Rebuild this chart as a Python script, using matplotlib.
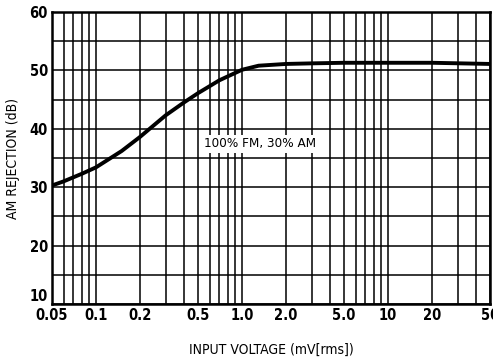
import numpy as np
import matplotlib
matplotlib.use("Agg")
import matplotlib.pyplot as plt
from matplotlib.ticker import FixedLocator, NullFormatter

# curve
volts = [0.05, 0.06, 0.08, 0.1, 0.15, 0.2, 0.3, 0.4, 0.5, 0.7, 1.0, 1.3, 2.0, 3.0, 5.0, 10, 20, 50]
rejection = [30.3, 31.0, 32.3, 33.4, 36.2, 38.6, 42.3, 44.5, 46.1, 48.3, 50.1, 50.8, 51.1, 51.2, 51.3, 51.3, 51.3, 51.1]

xticks = [0.05, 0.1, 0.2, 0.5, 1.0, 2.0, 5.0, 10, 20, 50]
xtick_labels = ["0.05", "0.1", "0.2", "0.5", "1.0", "2.0", "5.0", "10", "20", "50"]
yticks = [10, 20, 30, 40, 50, 60]
note = "100% FM, 30% AM"

plt.rcParams['font.family'] = ['DejaVu Sans']
plt.rcParams['font.stretch'] = 'condensed'

fig = plt.figure(figsize=(4.93, 3.62), dpi=100)
ax = fig.add_axes([0.1055, 0.160, 0.8885, 0.807])

ax.set_xscale('log')
ax.set_xlim(0.05, 50)
ax.set_ylim(10, 60)

# full log grid in x, 5 dB grid in y
vgrid = []
for dec in [0.01, 0.1, 1, 10]:
    for m in range(1, 10):
        v = m * dec
        if 0.05 <= v <= 50:
            vgrid.append(v)
ax.xaxis.set_major_locator(FixedLocator(xticks))
ax.xaxis.set_minor_locator(FixedLocator(vgrid))
ax.xaxis.set_minor_formatter(NullFormatter())
ax.set_xticklabels(xtick_labels)
ax.set_yticks(yticks)
ax.yaxis.set_minor_locator(FixedLocator(np.arange(10, 61, 5)))

ax.grid(True, which='both', color='black', linewidth=1.1)
ax.tick_params(which='both', length=0, labelsize=10.5)
for lab in ax.get_xticklabels() + ax.get_yticklabels():
    lab.set_fontweight('bold')
    lab.set_fontstretch('condensed')
ax.get_yticklabels()[0].set_verticalalignment('bottom')
ax.tick_params(axis='x', pad=3)
ax.tick_params(axis='y', pad=3)
for s in ax.spines.values():
    s.set_linewidth(1.8)

ax.plot(volts, rejection, color='black', linewidth=2.8, solid_capstyle='butt', zorder=5)

ax.text(1.33, 37.4, note, ha='center', va='center', fontsize=9.6, fontstretch='condensed',
        bbox=dict(facecolor='white', edgecolor='none', pad=1.5), zorder=6)

ax.set_xlabel("INPUT VOLTAGE (mV[rms])", fontsize=10, fontstretch='condensed', labelpad=14)
ax.set_ylabel("AM REJECTION (dB)", fontsize=10, fontstretch='condensed', labelpad=7)

fig.savefig("out.png", dpi=100)
